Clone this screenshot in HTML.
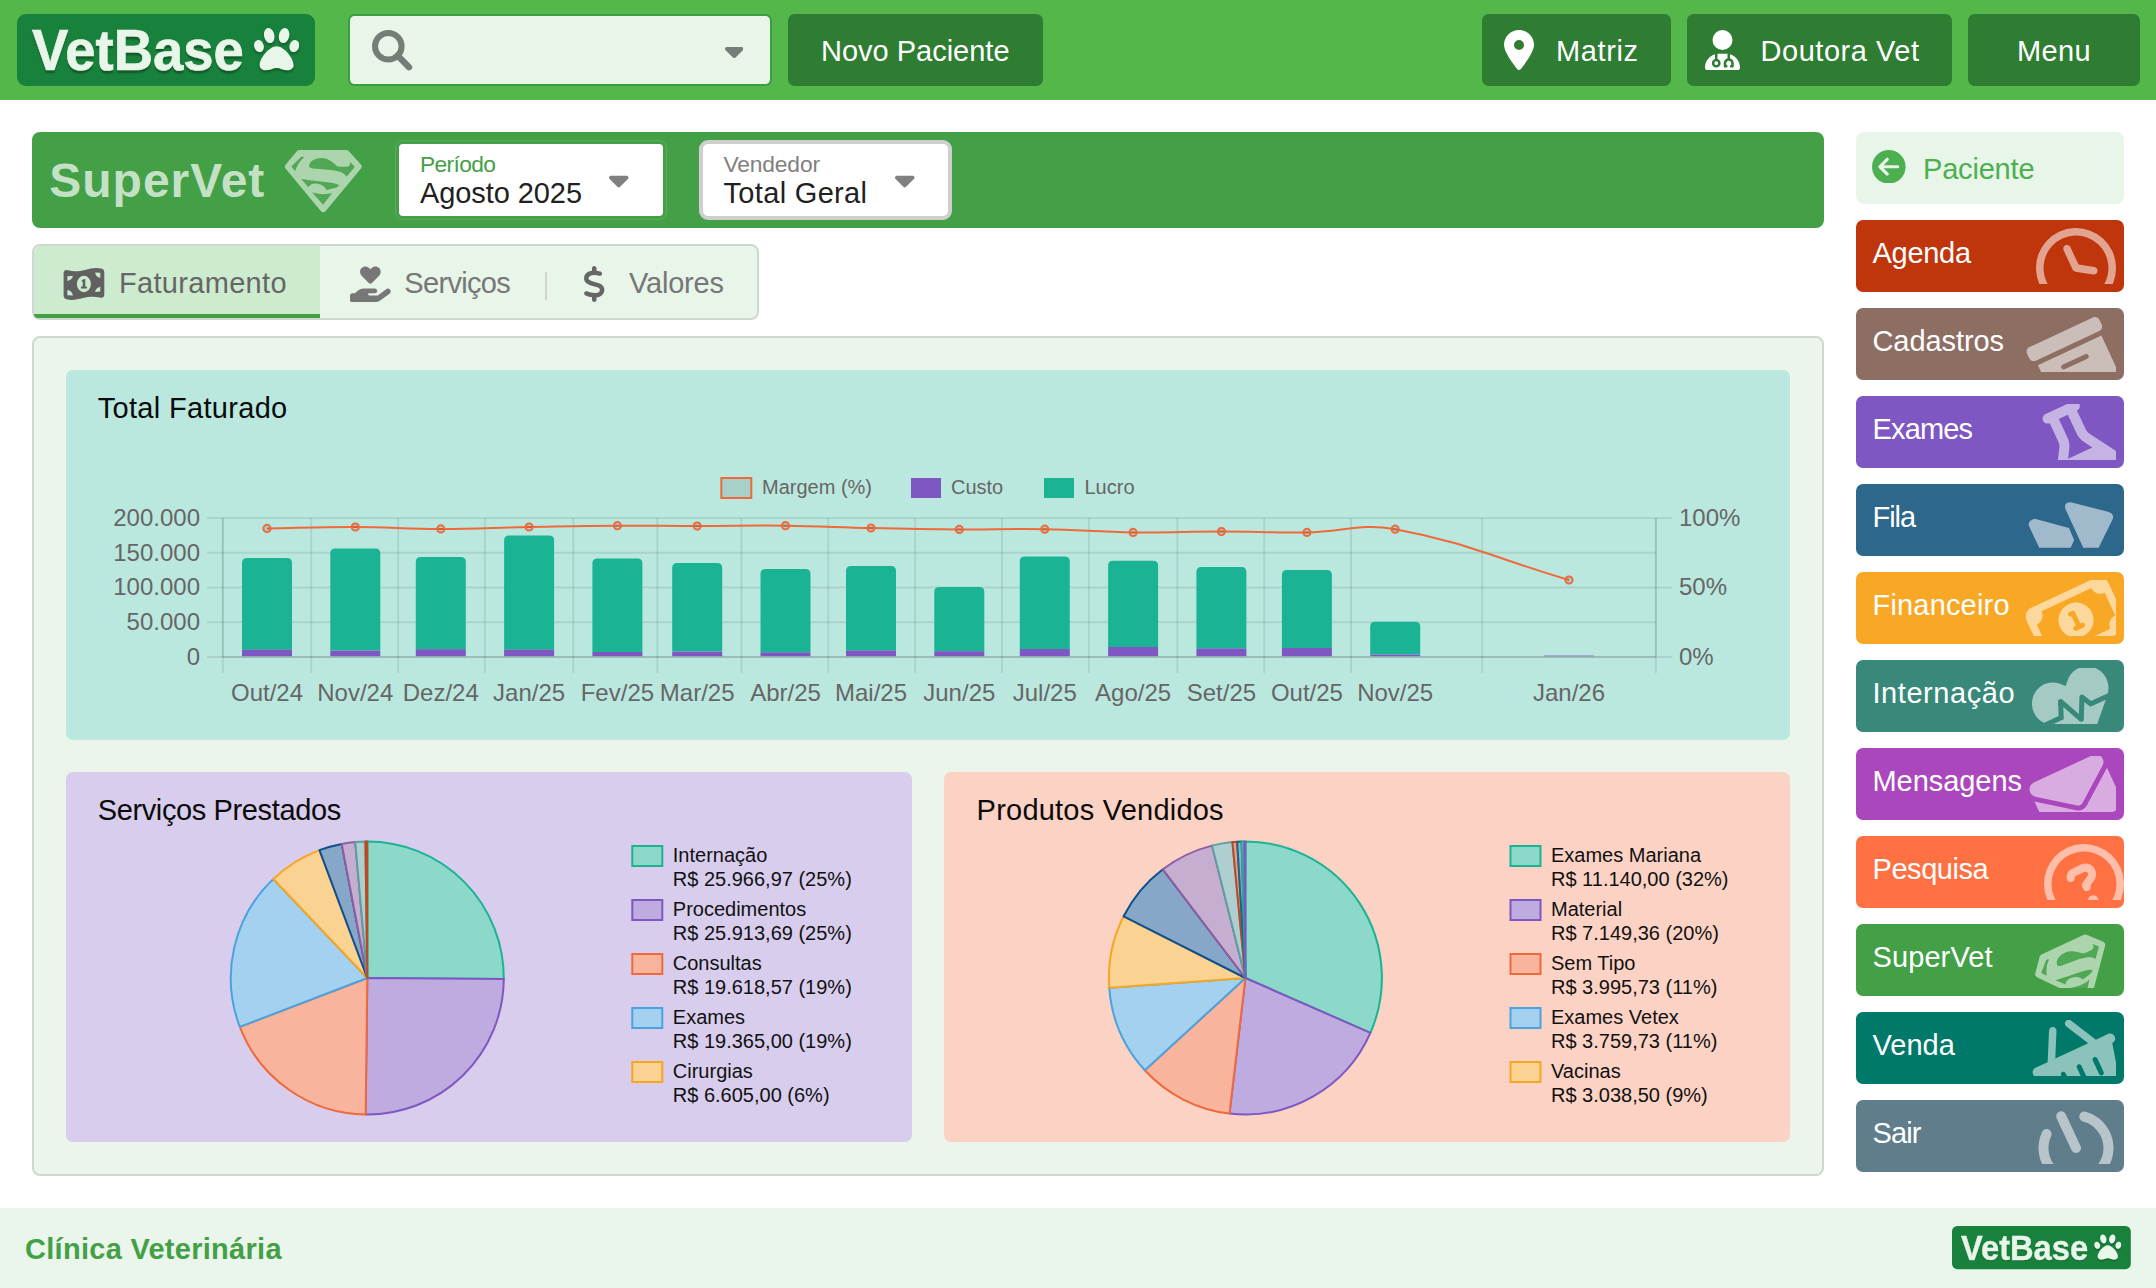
<!DOCTYPE html>
<html lang="pt-BR"><head><meta charset="utf-8"><title>VetBase - SuperVet</title>
<style>
html,body{margin:0;padding:0;}
body{width:2156px;height:1288px;position:relative;overflow:hidden;background:#fff;font-family:"Liberation Sans",sans-serif;}
.a{position:absolute;display:block;}
.t{position:absolute;white-space:nowrap;}
svg text{font-family:"Liberation Sans",sans-serif;}
</style></head><body>

<div class="a" style="left:0px;top:0px;width:2156px;height:100px;background:#53B74A;"></div>
<div class="a" style="left:17px;top:14px;width:298px;height:72px;transform-origin:0 0;transform:scale(1);">
<div class="a" style="left:0;top:0;width:298px;height:72px;background:#18813B;border-radius:9px;"></div>
<div class="t" style="left:15.2px;top:0.25px;font-size:57px;line-height:72px;font-weight:bold;color:#E8F5E9;-webkit-text-stroke:0.7px #E8F5E9;text-shadow:0 3px 1.5px rgba(0,0,0,0.3);transform-origin:0 50%;transform:scaleX(0.9551);">VetBase</div>
<svg class="a" style="left:237px;top:11.3px;filter:drop-shadow(0 2.5px 1px rgba(0,0,0,0.3));" width="45.3" height="48.3" viewBox="0 0 512 512" preserveAspectRatio="none"><path d="M256 224c-79.410 0-192 122.760-192 200.250 0 34.900 26.810 55.750 71.740 55.750 48.840 0 81.090-25.080 120.260-25.080 39.510 0 71.850 25.080 120.260 25.080 44.930 0 71.740-20.850 71.740-55.750C448 346.760 335.410 224 256 224zm-147.280-12.610c-10.400-34.650-42.440-57.090-71.560-50.130-29.120 6.960-44.290 40.690-33.890 75.340 10.400 34.650 42.440 57.090 71.560 50.130 29.120-6.960 44.290-40.690 33.890-75.340zm84.720-20.780c30.940-8.140 46.420-49.940 34.580-93.360s-46.520-72.010-77.460-63.870-46.420 49.940-34.580 93.360c11.840 43.420 46.530 72.020 77.460 63.870zm281.390-29.340c-29.120-6.960-61.150 15.480-71.560 50.130-10.400 34.650 4.770 68.380 33.890 75.340 29.120 6.960 61.150-15.480 71.560-50.130 10.400-34.650-4.770-68.380-33.890-75.340zm-156.270 29.340c30.940 8.140 65.620-20.450 77.460-63.870 11.840-43.420-3.640-85.210-34.580-93.360s-65.620 20.450-77.460 63.870c-11.840 43.420 3.640 85.220 34.580 93.360z" fill="#E8F5E9"/></svg>
</div>
<div class="a" style="left:348px;top:14px;width:423.5px;height:72px;background:#EAF5EA;border-radius:6.5px;box-sizing:border-box;border:2px solid #3A9E42;"></div>
<svg class="a" style="left:372px;top:29.7px;" width="41" height="41" viewBox="0 0 41 41"><circle cx="16.3" cy="16.3" r="13.3" fill="none" stroke="#747E76" stroke-width="6"/><line x1="25.6" y1="25.6" x2="37" y2="37.2" stroke="#747E76" stroke-width="6.4" stroke-linecap="round"/></svg>
<svg class="a" style="left:724.50px;top:35.50px;" width="18.44" height="29.50" viewBox="0 0 320 512" preserveAspectRatio="none"><path d="M137.400 374.600c12.500 12.500 32.800 12.500 45.300 0l128-128c9.200-9.200 11.900-22.900 6.900-34.900s-16.600-19.800-29.600-19.800L32 192c-12.900 0-24.600 7.800-29.600 19.800s-2.200 25.700 6.900 34.900l128 128z" fill="#747E76"/></svg>
<div class="a" style="left:788px;top:14px;width:255px;height:72px;background:#2E7D32;border-radius:6.5px;"></div>
<div class="t" style="left:821.00px;top:32.45px;font-size:29px;line-height:38px;color:#fff;letter-spacing:-0.009px;">Novo Paciente</div>
<div class="a" style="left:1482px;top:14px;width:189px;height:72px;background:#2E7D32;border-radius:6.5px;"></div>
<svg class="a" style="left:1503.50px;top:30.00px;" width="30.00" height="40.00" viewBox="0 0 384 512" preserveAspectRatio="none"><path d="M215.700 499.200C267 435 384 279.400 384 192C384 86 298 0 192 0S0 86 0 192c0 87.400 117 243 168.300 307.200c12.300 15.300 35.100 15.300 47.400 0zM192 128a64 64 0 1 1 0 128 64 64 0 1 1 0-128z" fill="#fff"/></svg>
<div class="t" style="left:1556.00px;top:32.45px;font-size:29px;line-height:38px;color:#fff;letter-spacing:0.612px;">Matriz</div>
<div class="a" style="left:1687px;top:14px;width:265px;height:72px;background:#2E7D32;border-radius:6.5px;"></div>
<svg class="a" style="left:1705.00px;top:30.00px;" width="35.00" height="40.00" viewBox="0 0 448 512" preserveAspectRatio="none"><path d="M224 256A128 128 0 1 0 224 0a128 128 0 1 0 0 256zm-96 55.200C54 332.900 0 401.300 0 482.300C0 498.700 13.300 512 29.700 512H418.300c16.400 0 29.700-13.300 29.700-29.700c0-81-54-149.400-128-171.100V362c27.600 7.100 48 32.200 48 62v40c0 8.800-7.200 16-16 16H336c-8.800 0-16-7.200-16-16s7.200-16 16-16V424c0-17.700-14.300-32-32-32s-32 14.300-32 32v24c8.800 0 16 7.200 16 16s-7.200 16-16 16H256c-8.800 0-16-7.200-16-16V424c0-29.800 20.400-54.900 48-62V304.900c-6-.6-12.100-.9-18.300-.9H178.300c-6.200 0-12.300 .3-18.300 .9v65.400c23.100 6.900 40 28.300 40 53.700c0 30.900-25.100 56-56 56s-56-25.100-56-56c0-25.400 16.900-46.800 40-53.700V311.200zM144 448a24 24 0 1 0 0-48 24 24 0 1 0 0 48z" fill="#fff"/></svg>
<div class="t" style="left:1760.50px;top:32.45px;font-size:29px;line-height:38px;color:#fff;letter-spacing:0.535px;">Doutora Vet</div>
<div class="a" style="left:1968px;top:14px;width:172px;height:72px;background:#2E7D32;border-radius:6.5px;"></div>
<div class="t" style="left:2017.00px;top:32.45px;font-size:29px;line-height:38px;color:#fff;letter-spacing:0.321px;">Menu</div>
<div class="a" style="left:32px;top:132px;width:1792px;height:96px;background:#43A047;border-radius:8px;"></div>
<div class="t" style="left:49.30px;top:150.37px;font-size:48px;line-height:62px;color:rgba(255,255,255,0.7);font-weight:bold;letter-spacing:0.990px;">SuperVet</div>
<svg class="a" style="left:0;top:0;" width="2156" height="1288" viewBox="0 0 2156 1288">
<g transform="translate(270,135) scale(0.06989)"><mask id="shm1" maskUnits="userSpaceOnUse" x="0" y="0" width="1600" height="1300"><path d="M420 262 L1090 262 L1262 452 L760 1055 L262 452 Z" fill="#fff" stroke="#fff" stroke-width="96" stroke-linejoin="round"/><path d="M305 450 L445 315 Q470 305 490 320 Q400 390 360 520 Z M560 440 C570 370 650 330 740 330 C840 335 900 390 950 440 C975 458 1000 456 1090 456 C1130 455 1150 430 1148 385 L1215 455 L1095 597 C1060 540 1000 520 900 505 C800 492 680 486 610 478 C575 472 558 462 560 440 Z M445 630 C600 655 800 665 930 695 C990 710 1000 730 960 748 C900 770 850 775 805 787 C790 740 730 700 650 695 C600 695 565 720 550 748 Z M600 820 C680 850 800 855 890 830 L760 997 Z" fill="#252525"/></mask><rect x="0" y="0" width="1600" height="1300" fill="rgba(255,255,255,0.56)" mask="url(#shm1)"/></g>
</svg>
<div class="a" style="left:395px;top:140px;width:272px;height:80px;background:#fff;border-radius:8px;box-sizing:border-box;border:4px solid #43A047;outline:1px solid rgba(255,255,255,0.12);outline-offset:-1px;"></div>
<div class="t" style="left:420.00px;top:148.60px;font-size:22.8px;line-height:30px;color:#43A047;letter-spacing:-0.642px;">Período</div>
<div class="t" style="left:420.00px;top:173.65px;font-size:29px;line-height:38px;color:#212121;letter-spacing:-0.084px;">Agosto 2025</div>
<svg class="a" style="left:609.00px;top:164.00px;" width="19.50" height="31.20" viewBox="0 0 320 512" preserveAspectRatio="none"><path d="M137.400 374.600c12.500 12.500 32.800 12.500 45.300 0l128-128c9.200-9.200 11.900-22.900 6.900-34.900s-16.600-19.800-29.600-19.800L32 192c-12.900 0-24.600 7.800-29.600 19.800s-2.200 25.700 6.900 34.900l128 128z" fill="#808080"/></svg>
<div class="a" style="left:699px;top:140px;width:253px;height:80px;background:#fff;border-radius:9px;box-sizing:border-box;border:4px solid #CFCFCF;"></div>
<div class="t" style="left:723.50px;top:148.60px;font-size:22.8px;line-height:30px;color:#808080;letter-spacing:-0.159px;">Vendedor</div>
<div class="t" style="left:723.50px;top:173.65px;font-size:29px;line-height:38px;color:#212121;letter-spacing:0.328px;">Total Geral</div>
<svg class="a" style="left:895.00px;top:164.00px;" width="19.50" height="31.20" viewBox="0 0 320 512" preserveAspectRatio="none"><path d="M137.400 374.600c12.500 12.500 32.800 12.500 45.300 0l128-128c9.200-9.200 11.900-22.900 6.900-34.900s-16.600-19.800-29.600-19.800L32 192c-12.900 0-24.600 7.800-29.600 19.800s-2.200 25.700 6.900 34.900l128 128z" fill="#808080"/></svg>
<div class="a" style="left:32px;top:244px;width:727px;height:76px;background:#E8F5E9;border-radius:8px;box-sizing:border-box;border:2px solid #CDD9CF;"></div>
<div class="a" style="left:34px;top:246px;width:286px;height:72px;background:#CDEBCE;border-radius:7px 0 0 7px;"></div>
<div class="a" style="left:38px;top:314px;width:282px;height:4px;background:#43A047;"></div>
<div class="a" style="left:34px;top:314px;width:8px;height:4px;background:#43A047;border-radius:0 0 0 6px;"></div>
<svg class="a" style="left:62.8px;top:267.2px;" width="42" height="34" viewBox="0 0 42 34">
<path fill-rule="evenodd" fill="#616161" d="M0.6 6.2 C0.6 3.6 2.6 2.6 5 3.3 C11 4.8 16 4.4 22 2.9 C28 1.3 33 0.3 38.2 1.6 C40.3 2.1 41.3 3.4 41.3 5.5 L41.3 27.6 C41.3 30.3 39.3 31.3 36.8 30.6 C31 29.2 26 29.5 20 31.1 C14 32.6 9 33.6 3.7 32.3 C1.6 31.8 0.6 30.5 0.6 28.4 Z
M4.4 9.2 L4.4 14 C7.4 13.6 9.6 11.6 9.9 8.8 Z M4.4 28.3 L9.9 28.6 C9.6 25.6 7.4 23.4 4.4 23 Z M37.3 5.7 L32.1 5.4 C32.5 8.4 34.5 10.4 37.3 10.8 Z M37.3 24.5 L37.3 19.8 C34.6 20.3 32.6 22.2 32.1 24.9 Z
M13.9 17 a7 8.3 0 1 0 14 0 a7 8.3 0 1 0 -14 0 Z"/>
<path fill="#616161" d="M18.8 13.2 L21.2 11.9 L22.3 11.9 L22.3 19.6 L23.9 19.6 L23.9 21.4 L17.9 21.4 L17.9 19.6 L19.7 19.6 L19.7 14.6 L18.8 15 Z"/>
</svg>
<div class="t" style="left:119.00px;top:264.45px;font-size:29px;line-height:38px;color:#666;letter-spacing:0.310px;">Faturamento</div>
<svg class="a" style="left:350.00px;top:266.20px;" width="40.73" height="36.20" viewBox="0 0 576 512" preserveAspectRatio="none"><path d="M163.900 136.900c-29.400-29.800-29.400-78.200 0-108s77-29.800 106.400 0l17.700 18 17.700-18c29.400-29.800 77-29.800 106.400 0s29.400 78.200 0 108L310.500 240.100c-6.200 6.300-14.300 9.400-22.500 9.400s-16.300-3.100-22.500-9.400L163.900 136.900zM568.200 336.300c13.100 17.800 9.300 42.800-8.500 55.900L433.100 485.500c-23.400 17.200-51.600 26.500-80.700 26.500H192 32c-17.700 0-32-14.300-32-32V416c0-17.700 14.300-32 32-32H68.800l44.900-36c22.700-18.200 50.900-28 80-28H272h16 64c17.700 0 32 14.300 32 32s-14.300 32-32 32H288 272c-8.800 0-16 7.200-16 16s7.200 16 16 16H392.600l119.700-88.200c17.800-13.100 42.800-9.300 55.900 8.500z" fill="#777"/></svg>
<div class="t" style="left:404.30px;top:264.45px;font-size:29px;line-height:38px;color:#777;letter-spacing:-0.671px;">Serviços</div>
<div class="a" style="left:545.2px;top:272px;width:2.2px;height:27.5px;background:#D2D2D0;"></div>
<svg class="a" style="left:583.20px;top:266.20px;" width="22.50" height="36.00" viewBox="0 0 320 512" preserveAspectRatio="none"><path d="M160 0c17.700 0 32 14.300 32 32V67.700c1.600 .2 3.100 .4 4.700 .7c.4 .1 .7 .1 1.100 .2l48 8.800c17.400 3.200 28.900 19.900 25.700 37.200s-19.900 28.900-37.200 25.700l-47.500-8.700c-31.300-4.600-58.900-1.500-78.300 6.200s-27.200 18.300-29 28.100c-2 10.700-.5 16.700 1.200 20.400c1.800 3.900 5.500 8.300 12.800 13.200c16.300 10.700 41.300 17.700 73.700 26.300l2.900 .8c28.600 7.600 63.600 16.800 89.600 33.800c14.200 9.300 27.600 21.900 35.900 39.500c8.500 17.900 10.300 37.900 6.400 59.200c-6.900 38-33.100 63.400-65.600 76.700c-13.700 5.600-28.600 9.200-44.400 11V480c0 17.700-14.300 32-32 32s-32-14.300-32-32V445.100c-.4-.1-.9-.1-1.300-.2l-.2 0 0 0c-24.400-3.800-64.500-14.300-91.500-26.300c-16.100-7.200-23.400-26.100-16.200-42.200s26.100-23.400 42.200-16.200c20.900 9.300 55.300 18.500 75.200 21.600c31.900 4.700 58.200 2 76-5.300c16.900-6.900 24.600-16.900 26.800-28.900c1.900-10.600 .4-16.700-1.300-20.400c-1.900-4-5.600-8.400-13-13.300c-16.400-10.700-41.500-17.700-74-26.300l-2.800-.7 0 0C119.400 279.300 84.400 270 58.400 253c-14.200-9.300-27.500-22-35.800-39.600c-8.400-17.900-10.100-37.900-6.100-59.200C23.700 116 52.300 91.200 84.800 78.300c13.300-5.300 27.900-8.900 43.200-11V32c0-17.700 14.300-32 32-32z" fill="#666"/></svg>
<div class="t" style="left:629.00px;top:264.45px;font-size:29px;line-height:38px;color:#777;letter-spacing:-0.195px;">Valores</div>
<div class="a" style="left:32px;top:336px;width:1792px;height:840px;background:#EBF5EC;border-radius:8px;box-sizing:border-box;border:2px solid #CDD9CF;"></div>
<div class="a" style="left:66px;top:370px;width:1724px;height:370px;background:#BAE8DF;border-radius:7px;"></div>
<div class="a" style="left:66px;top:772px;width:846px;height:370px;background:#D8CDED;border-radius:7px;"></div>
<div class="a" style="left:944px;top:772px;width:846px;height:370px;background:#FBD2C4;border-radius:7px;"></div>
<div class="t" style="left:97.70px;top:388.55px;font-size:29px;line-height:38px;color:#0b0b0b;letter-spacing:0.318px;">Total Faturado</div>
<div class="t" style="left:97.70px;top:791.45px;font-size:29px;line-height:38px;color:#0b0b0b;letter-spacing:-0.372px;">Serviços Prestados</div>
<div class="t" style="left:976.60px;top:791.45px;font-size:29px;line-height:38px;color:#0b0b0b;letter-spacing:0.222px;">Produtos Vendidos</div>
<svg class="a" style="left:0;top:0;" width="2156" height="1288" viewBox="0 0 2156 1288">
<line x1="207" x2="1671.9" y1="518.00" y2="518.00" stroke="rgba(0,0,0,0.085)" stroke-width="2"/>
<line x1="207" x2="1655.9" y1="552.75" y2="552.75" stroke="rgba(0,0,0,0.085)" stroke-width="2"/>
<line x1="207" x2="1671.9" y1="587.50" y2="587.50" stroke="rgba(0,0,0,0.085)" stroke-width="2"/>
<line x1="207" x2="1655.9" y1="622.25" y2="622.25" stroke="rgba(0,0,0,0.085)" stroke-width="2"/>
<line x1="207" x2="1671.9" y1="657.00" y2="657.00" stroke="rgba(0,0,0,0.085)" stroke-width="2"/>
<line x1="222.8" x2="222.8" y1="518.0" y2="673.0" stroke="rgba(0,0,0,0.085)" stroke-width="2"/>
<line x1="311.2" x2="311.2" y1="518.0" y2="673.0" stroke="rgba(0,0,0,0.085)" stroke-width="2"/>
<line x1="398.1" x2="398.1" y1="518.0" y2="673.0" stroke="rgba(0,0,0,0.085)" stroke-width="2"/>
<line x1="484.9" x2="484.9" y1="518.0" y2="673.0" stroke="rgba(0,0,0,0.085)" stroke-width="2"/>
<line x1="573.3" x2="573.3" y1="518.0" y2="673.0" stroke="rgba(0,0,0,0.085)" stroke-width="2"/>
<line x1="657.3" x2="657.3" y1="518.0" y2="673.0" stroke="rgba(0,0,0,0.085)" stroke-width="2"/>
<line x1="741.4" x2="741.4" y1="518.0" y2="673.0" stroke="rgba(0,0,0,0.085)" stroke-width="2"/>
<line x1="828.3" x2="828.3" y1="518.0" y2="673.0" stroke="rgba(0,0,0,0.085)" stroke-width="2"/>
<line x1="915.1" x2="915.1" y1="518.0" y2="673.0" stroke="rgba(0,0,0,0.085)" stroke-width="2"/>
<line x1="1002.0" x2="1002.0" y1="518.0" y2="673.0" stroke="rgba(0,0,0,0.085)" stroke-width="2"/>
<line x1="1088.9" x2="1088.9" y1="518.0" y2="673.0" stroke="rgba(0,0,0,0.085)" stroke-width="2"/>
<line x1="1177.3" x2="1177.3" y1="518.0" y2="673.0" stroke="rgba(0,0,0,0.085)" stroke-width="2"/>
<line x1="1264.2" x2="1264.2" y1="518.0" y2="673.0" stroke="rgba(0,0,0,0.085)" stroke-width="2"/>
<line x1="1351.0" x2="1351.0" y1="518.0" y2="673.0" stroke="rgba(0,0,0,0.085)" stroke-width="2"/>
<line x1="1482.1" x2="1482.1" y1="518.0" y2="673.0" stroke="rgba(0,0,0,0.085)" stroke-width="2"/>
<line x1="1655.9" x2="1655.9" y1="518.0" y2="673.0" stroke="rgba(0,0,0,0.085)" stroke-width="2"/>
<line x1="222.8" x2="1655.9" y1="657.0" y2="657.0" stroke="rgba(0,0,0,0.1)" stroke-width="2"/>
<line x1="222.8" x2="222.8" y1="518.0" y2="657.0" stroke="rgba(0,0,0,0.08)" stroke-width="2"/>
<line x1="1655.9" x2="1655.9" y1="518.0" y2="657.0" stroke="rgba(0,0,0,0.08)" stroke-width="2"/>
<path d="M242.0 649.7 L242.0 562.9 Q242.0 557.9 247.0 557.9 L287.0 557.9 Q292.0 557.9 292.0 562.9 L292.0 649.7 Z" fill="#1AB394"/>
<rect x="242.0" y="649.7" width="50" height="6.5" fill="#7E57C2"/>
<path d="M330.3 650.6 L330.3 553.6 Q330.3 548.6 335.3 548.6 L375.3 548.6 Q380.3 548.6 380.3 553.6 L380.3 650.6 Z" fill="#1AB394"/>
<rect x="330.3" y="650.6" width="50" height="5.6" fill="#7E57C2"/>
<path d="M415.8 649.2 L415.8 561.9 Q415.8 556.9 420.8 556.9 L460.8 556.9 Q465.8 556.9 465.8 561.9 L465.8 649.2 Z" fill="#1AB394"/>
<rect x="415.8" y="649.2" width="50" height="7.0" fill="#7E57C2"/>
<path d="M504.1 649.7 L504.1 540.4 Q504.1 535.4 509.1 535.4 L549.1 535.4 Q554.1 535.4 554.1 540.4 L554.1 649.7 Z" fill="#1AB394"/>
<rect x="504.1" y="649.7" width="50" height="6.5" fill="#7E57C2"/>
<path d="M592.4 652.0 L592.4 563.6 Q592.4 558.6 597.4 558.6 L637.4 558.6 Q642.4 558.6 642.4 563.6 L642.4 652.0 Z" fill="#1AB394"/>
<rect x="592.4" y="652.0" width="50" height="4.2" fill="#7E57C2"/>
<path d="M672.2 651.6 L672.2 568.0 Q672.2 563.0 677.2 563.0 L717.2 563.0 Q722.2 563.0 722.2 568.0 L722.2 651.6 Z" fill="#1AB394"/>
<rect x="672.2" y="651.6" width="50" height="4.6" fill="#7E57C2"/>
<path d="M760.5 652.4 L760.5 574.0 Q760.5 569.0 765.5 569.0 L805.5 569.0 Q810.5 569.0 810.5 574.0 L810.5 652.4 Z" fill="#1AB394"/>
<rect x="760.5" y="652.4" width="50" height="3.8" fill="#7E57C2"/>
<path d="M846.0 650.4 L846.0 571.1 Q846.0 566.1 851.0 566.1 L891.0 566.1 Q896.0 566.1 896.0 571.1 L896.0 650.4 Z" fill="#1AB394"/>
<rect x="846.0" y="650.4" width="50" height="5.8" fill="#7E57C2"/>
<path d="M934.3 651.2 L934.3 592.0 Q934.3 587.0 939.3 587.0 L979.3 587.0 Q984.3 587.0 984.3 592.0 L984.3 651.2 Z" fill="#1AB394"/>
<rect x="934.3" y="651.2" width="50" height="5.0" fill="#7E57C2"/>
<path d="M1019.8 649.0 L1019.8 561.5 Q1019.8 556.5 1024.8 556.5 L1064.8 556.5 Q1069.8 556.5 1069.8 561.5 L1069.8 649.0 Z" fill="#1AB394"/>
<rect x="1019.8" y="649.0" width="50" height="7.2" fill="#7E57C2"/>
<path d="M1108.1 647.0 L1108.1 565.8 Q1108.1 560.8 1113.1 560.8 L1153.1 560.8 Q1158.1 560.8 1158.1 565.8 L1158.1 647.0 Z" fill="#1AB394"/>
<rect x="1108.1" y="647.0" width="50" height="9.2" fill="#7E57C2"/>
<path d="M1196.4 648.4 L1196.4 572.1 Q1196.4 567.1 1201.4 567.1 L1241.4 567.1 Q1246.4 567.1 1246.4 572.1 L1246.4 648.4 Z" fill="#1AB394"/>
<rect x="1196.4" y="648.4" width="50" height="7.8" fill="#7E57C2"/>
<path d="M1281.9 648.0 L1281.9 575.0 Q1281.9 570.0 1286.9 570.0 L1326.9 570.0 Q1331.9 570.0 1331.9 575.0 L1331.9 648.0 Z" fill="#1AB394"/>
<rect x="1281.9" y="648.0" width="50" height="8.2" fill="#7E57C2"/>
<path d="M1370.2 654.6 L1370.2 626.8 Q1370.2 621.8 1375.2 621.8 L1415.2 621.8 Q1420.2 621.8 1420.2 626.8 L1420.2 654.6 Z" fill="#1AB394"/>
<rect x="1370.2" y="654.6" width="50" height="1.6" fill="#7E57C2"/>
<rect x="1544.0" y="655.6" width="50" height="0.6" fill="#7E57C2"/>
<path d="M267.0 528.4 C302.3 527.8 320.0 526.9 355.3 527.0 C389.5 527.1 406.6 528.9 440.8 528.9 C476.1 528.9 493.8 527.6 529.1 527.0 C564.4 526.4 582.1 525.9 617.4 525.7 C649.3 525.5 665.3 526.1 697.2 526.1 C732.5 526.1 750.2 525.3 785.5 525.7 C819.7 526.1 836.8 527.3 871.0 528.0 C906.3 528.8 924.0 529.2 959.3 529.4 C993.5 529.6 1010.6 528.6 1044.8 529.2 C1080.1 529.8 1097.8 531.9 1133.1 532.4 C1168.4 532.9 1186.1 531.6 1221.4 531.6 C1255.6 531.6 1272.7 532.9 1306.9 532.4 C1342.2 531.9 1360.8 523.0 1395.2 529.2 C1465.7 542.0 1499.5 559.7 1569.0 580.0" fill="none" stroke="#F0693A" stroke-width="2"/>
<circle cx="267.0" cy="528.4" r="3.6" fill="rgba(0,0,0,0.1)" stroke="#F0693A" stroke-width="2"/>
<circle cx="355.3" cy="527.0" r="3.6" fill="rgba(0,0,0,0.1)" stroke="#F0693A" stroke-width="2"/>
<circle cx="440.8" cy="528.9" r="3.6" fill="rgba(0,0,0,0.1)" stroke="#F0693A" stroke-width="2"/>
<circle cx="529.1" cy="527.0" r="3.6" fill="rgba(0,0,0,0.1)" stroke="#F0693A" stroke-width="2"/>
<circle cx="617.4" cy="525.7" r="3.6" fill="rgba(0,0,0,0.1)" stroke="#F0693A" stroke-width="2"/>
<circle cx="697.2" cy="526.1" r="3.6" fill="rgba(0,0,0,0.1)" stroke="#F0693A" stroke-width="2"/>
<circle cx="785.5" cy="525.7" r="3.6" fill="rgba(0,0,0,0.1)" stroke="#F0693A" stroke-width="2"/>
<circle cx="871.0" cy="528.0" r="3.6" fill="rgba(0,0,0,0.1)" stroke="#F0693A" stroke-width="2"/>
<circle cx="959.3" cy="529.4" r="3.6" fill="rgba(0,0,0,0.1)" stroke="#F0693A" stroke-width="2"/>
<circle cx="1044.8" cy="529.2" r="3.6" fill="rgba(0,0,0,0.1)" stroke="#F0693A" stroke-width="2"/>
<circle cx="1133.1" cy="532.4" r="3.6" fill="rgba(0,0,0,0.1)" stroke="#F0693A" stroke-width="2"/>
<circle cx="1221.4" cy="531.6" r="3.6" fill="rgba(0,0,0,0.1)" stroke="#F0693A" stroke-width="2"/>
<circle cx="1306.9" cy="532.4" r="3.6" fill="rgba(0,0,0,0.1)" stroke="#F0693A" stroke-width="2"/>
<circle cx="1395.2" cy="529.2" r="3.6" fill="rgba(0,0,0,0.1)" stroke="#F0693A" stroke-width="2"/>
<circle cx="1569.0" cy="580.0" r="3.6" fill="rgba(0,0,0,0.1)" stroke="#F0693A" stroke-width="2"/>
<rect x="721.3" y="478" width="30" height="20" fill="rgba(0,0,0,0.1)" stroke="#F0693A" stroke-width="2"/>
<rect x="911" y="478" width="30" height="20" fill="#7E57C2"/>
<rect x="1044" y="478" width="30" height="20" fill="#1AB394"/>
<g font-size="20" fill="#666"><text x="762" y="494">Margem (%)</text><text x="951" y="494">Custo</text><text x="1084.5" y="494">Lucro</text></g>
<g font-size="24" fill="#666">
<text x="200" y="525.8" text-anchor="end">200.000</text>
<text x="200" y="560.5" text-anchor="end">150.000</text>
<text x="200" y="595.3" text-anchor="end">100.000</text>
<text x="200" y="630.0" text-anchor="end">50.000</text>
<text x="200" y="664.8" text-anchor="end">0</text>
<text x="1679" y="525.8">100%</text>
<text x="1679" y="595.3">50%</text>
<text x="1679" y="664.8">0%</text>
<text x="267.0" y="701.2" text-anchor="middle">Out/24</text>
<text x="355.3" y="701.2" text-anchor="middle">Nov/24</text>
<text x="440.8" y="701.2" text-anchor="middle">Dez/24</text>
<text x="529.1" y="701.2" text-anchor="middle">Jan/25</text>
<text x="617.4" y="701.2" text-anchor="middle">Fev/25</text>
<text x="697.2" y="701.2" text-anchor="middle">Mar/25</text>
<text x="785.5" y="701.2" text-anchor="middle">Abr/25</text>
<text x="871.0" y="701.2" text-anchor="middle">Mai/25</text>
<text x="959.3" y="701.2" text-anchor="middle">Jun/25</text>
<text x="1044.8" y="701.2" text-anchor="middle">Jul/25</text>
<text x="1133.1" y="701.2" text-anchor="middle">Ago/25</text>
<text x="1221.4" y="701.2" text-anchor="middle">Set/25</text>
<text x="1306.9" y="701.2" text-anchor="middle">Out/25</text>
<text x="1395.2" y="701.2" text-anchor="middle">Nov/25</text>
<text x="1569.0" y="701.2" text-anchor="middle">Jan/26</text>
</g>
<path d="M367.30 978.00 L367.30 841.50 A136.5 136.5 0 0 1 503.80 979.06 Z" fill="#8CD9CA" stroke="#1AB394" stroke-width="2" stroke-linejoin="round"/>
<path d="M367.30 978.00 L503.80 979.06 A136.5 136.5 0 0 1 365.63 1114.49 Z" fill="#BEABE0" stroke="#7E57C2" stroke-width="2" stroke-linejoin="round"/>
<path d="M367.30 978.00 L365.63 1114.49 A136.5 136.5 0 0 1 239.84 1026.85 Z" fill="#F8B49C" stroke="#F0693A" stroke-width="2" stroke-linejoin="round"/>
<path d="M367.30 978.00 L239.84 1026.85 A136.5 136.5 0 0 1 273.30 879.02 Z" fill="#A4D1EF" stroke="#4AA3DF" stroke-width="2" stroke-linejoin="round"/>
<path d="M367.30 978.00 L273.30 879.02 A136.5 136.5 0 0 1 319.46 850.16 Z" fill="#FAD291" stroke="#F5A623" stroke-width="2" stroke-linejoin="round"/>
<path d="M367.30 978.00 L319.46 850.16 A136.5 136.5 0 0 1 341.73 843.92 Z" fill="#86A7C7" stroke="#0D4F8F" stroke-width="2" stroke-linejoin="round"/>
<path d="M367.30 978.00 L341.73 843.92 A136.5 136.5 0 0 1 355.23 842.04 Z" fill="#C6AED0" stroke="#8E5EA2" stroke-width="2" stroke-linejoin="round"/>
<path d="M367.30 978.00 L355.23 842.04 A136.5 136.5 0 0 1 365.42 841.51 Z" fill="#AFCED0" stroke="#5F9EA0" stroke-width="2" stroke-linejoin="round"/>
<path d="M367.30 978.00 L365.42 841.51 A136.5 136.5 0 0 1 367.30 841.50 Z" fill="#DCA492" stroke="#B94A24" stroke-width="2" stroke-linejoin="round"/>
<path d="M1245.40 978.00 L1245.40 841.50 A136.5 136.5 0 0 1 1370.38 1032.89 Z" fill="#8CD9CA" stroke="#1AB394" stroke-width="2" stroke-linejoin="round"/>
<path d="M1245.40 978.00 L1370.38 1032.89 A136.5 136.5 0 0 1 1229.50 1113.57 Z" fill="#BEABE0" stroke="#7E57C2" stroke-width="2" stroke-linejoin="round"/>
<path d="M1245.40 978.00 L1229.50 1113.57 A136.5 136.5 0 0 1 1144.80 1070.26 Z" fill="#F8B49C" stroke="#F0693A" stroke-width="2" stroke-linejoin="round"/>
<path d="M1245.40 978.00 L1144.80 1070.26 A136.5 136.5 0 0 1 1109.26 987.87 Z" fill="#A4D1EF" stroke="#4AA3DF" stroke-width="2" stroke-linejoin="round"/>
<path d="M1245.40 978.00 L1109.26 987.87 A136.5 136.5 0 0 1 1123.63 916.31 Z" fill="#FAD291" stroke="#F5A623" stroke-width="2" stroke-linejoin="round"/>
<path d="M1245.40 978.00 L1123.63 916.31 A136.5 136.5 0 0 1 1162.86 869.28 Z" fill="#86A7C7" stroke="#0D4F8F" stroke-width="2" stroke-linejoin="round"/>
<path d="M1245.40 978.00 L1162.86 869.28 A136.5 136.5 0 0 1 1212.06 845.63 Z" fill="#C6AED0" stroke="#8E5EA2" stroke-width="2" stroke-linejoin="round"/>
<path d="M1245.40 978.00 L1212.06 845.63 A136.5 136.5 0 0 1 1232.41 842.12 Z" fill="#AFCED0" stroke="#5F9EA0" stroke-width="2" stroke-linejoin="round"/>
<path d="M1245.40 978.00 L1232.41 842.12 A136.5 136.5 0 0 1 1237.14 841.75 Z" fill="#DCA492" stroke="#B94A24" stroke-width="2" stroke-linejoin="round"/>
<path d="M1245.40 978.00 L1237.14 841.75 A136.5 136.5 0 0 1 1241.63 841.55 Z" fill="#90B0C6" stroke="#22628C" stroke-width="2" stroke-linejoin="round"/>
<path d="M1245.40 978.00 L1241.63 841.55 A136.5 136.5 0 0 1 1244.31 841.50 Z" fill="#8CD9CA" stroke="#1AB394" stroke-width="2" stroke-linejoin="round"/>
<path d="M1245.40 978.00 L1244.31 841.50 A136.5 136.5 0 0 1 1245.40 841.50 Z" fill="#BEABE0" stroke="#7E57C2" stroke-width="2" stroke-linejoin="round"/>
<g font-size="20" fill="#111">
<rect x="632.3" y="846" width="30" height="20" fill="#8CD9CA" stroke="#1AB394" stroke-width="2"/>
<text x="672.8" y="861.6">Internação</text><text x="672.8" y="885.6">R$ 25.966,97 (25%)</text>
<rect x="632.3" y="900" width="30" height="20" fill="#BEABE0" stroke="#7E57C2" stroke-width="2"/>
<text x="672.8" y="915.6">Procedimentos</text><text x="672.8" y="939.6">R$ 25.913,69 (25%)</text>
<rect x="632.3" y="954" width="30" height="20" fill="#F8B49C" stroke="#F0693A" stroke-width="2"/>
<text x="672.8" y="969.6">Consultas</text><text x="672.8" y="993.6">R$ 19.618,57 (19%)</text>
<rect x="632.3" y="1008" width="30" height="20" fill="#A4D1EF" stroke="#4AA3DF" stroke-width="2"/>
<text x="672.8" y="1023.6">Exames</text><text x="672.8" y="1047.6">R$ 19.365,00 (19%)</text>
<rect x="632.3" y="1062" width="30" height="20" fill="#FAD291" stroke="#F5A623" stroke-width="2"/>
<text x="672.8" y="1077.6">Cirurgias</text><text x="672.8" y="1101.6">R$ 6.605,00 (6%)</text>
</g>
<g font-size="20" fill="#111">
<rect x="1510.5" y="846" width="30" height="20" fill="#8CD9CA" stroke="#1AB394" stroke-width="2"/>
<text x="1551.0" y="861.6">Exames Mariana</text><text x="1551.0" y="885.6">R$ 11.140,00 (32%)</text>
<rect x="1510.5" y="900" width="30" height="20" fill="#BEABE0" stroke="#7E57C2" stroke-width="2"/>
<text x="1551.0" y="915.6">Material</text><text x="1551.0" y="939.6">R$ 7.149,36 (20%)</text>
<rect x="1510.5" y="954" width="30" height="20" fill="#F8B49C" stroke="#F0693A" stroke-width="2"/>
<text x="1551.0" y="969.6">Sem Tipo</text><text x="1551.0" y="993.6">R$ 3.995,73 (11%)</text>
<rect x="1510.5" y="1008" width="30" height="20" fill="#A4D1EF" stroke="#4AA3DF" stroke-width="2"/>
<text x="1551.0" y="1023.6">Exames Vetex</text><text x="1551.0" y="1047.6">R$ 3.759,73 (11%)</text>
<rect x="1510.5" y="1062" width="30" height="20" fill="#FAD291" stroke="#F5A623" stroke-width="2"/>
<text x="1551.0" y="1077.6">Vacinas</text><text x="1551.0" y="1101.6">R$ 3.038,50 (9%)</text>
</g>
</svg>
<div class="a" style="left:1856px;top:132px;width:268px;height:72px;background:#E8F5E9;border-radius:8px;"></div>
<svg class="a" style="left:1872.00px;top:149.60px;" width="33.60" height="33.60" viewBox="0 0 512 512" preserveAspectRatio="none"><path d="M512 256A256 256 0 1 0 0 256a256 256 0 1 0 512 0zM215 127c9.400-9.400 24.600-9.400 33.900 0s9.400 24.600 0 33.900l-71 71L392 232c13.300 0 24 10.700 24 24s-10.700 24-24 24l-214.100 0 71 71c9.400 9.400 9.400 24.600 0 33.900s-24.600 9.400-33.900 0L103 273c-9.400-9.400-9.400-24.600 0-33.900L215 127z" fill="#4CAF50"/></svg>
<div class="t" style="left:1923.00px;top:149.95px;font-size:29px;line-height:38px;color:#4CAF50;letter-spacing:-0.193px;">Paciente</div>
<div class="a" style="left:1856px;top:220px;width:268px;height:72px;background:#BF360C;border-radius:7px;overflow:hidden;">
<svg class="a" style="left:0;top:8px;" width="260" height="56" viewBox="0 8 260 56">
<g transform="translate(220.00,48) rotate(-25) scale(0.15625) translate(-256.0,-256)"><path d="M464 256A208 208 0 1 1 48 256a208 208 0 1 1 416 0zM0 256a256 256 0 1 0 512 0A256 256 0 1 0 0 256zM232 120V256c0 8 4 15.500 10.700 20l96 64c11 7.400 25.900 4.400 33.300-6.700s4.400-25.900-6.700-33.300L280 243.200V120c0-13.300-10.700-24-24-24s-24 10.700-24 24z" fill="rgba(255,255,255,0.55)"/></g>
</svg>
</div>
<div class="t" style="left:1872.50px;top:233.75px;font-size:29px;line-height:38px;color:#fff;letter-spacing:-0.296px;">Agenda</div>
<div class="a" style="left:1856px;top:308px;width:268px;height:72px;background:#8D6E63;border-radius:7px;overflow:hidden;">
<svg class="a" style="left:0;top:8px;" width="260" height="56" viewBox="0 8 260 56">
<g transform="translate(220.00,56) rotate(-25) scale(0.15625) translate(-256.0,-256)"><path d="M32 32H480c17.700 0 32 14.300 32 32V96c0 17.700-14.300 32-32 32H32C14.300 128 0 113.700 0 96V64C0 46.300 14.300 32 32 32zm0 128H480V416c0 35.300-28.700 64-64 64H96c-35.300 0-64-28.700-64-64V160zm128 80c0 8.800 7.200 16 16 16H336c8.800 0 16-7.200 16-16s-7.200-16-16-16H176c-8.800 0-16 7.200-16 16z" fill="rgba(255,255,255,0.55)"/></g>
</svg>
</div>
<div class="t" style="left:1872.50px;top:321.75px;font-size:29px;line-height:38px;color:#fff;letter-spacing:-0.070px;">Cadastros</div>
<div class="a" style="left:1856px;top:396px;width:268px;height:72px;background:#7E57C2;border-radius:7px;overflow:hidden;">
<svg class="a" style="left:0;top:8px;" width="260" height="56" viewBox="0 8 260 56">
<g transform="translate(220.00,48) rotate(-25) scale(0.15625) translate(-224.0,-256)"><path d="M288 0H160 128C110.300 0 96 14.300 96 32s14.300 32 32 32V196.800c0 11.800-3.300 23.500-9.500 33.500L10.300 406.200C3.600 417.200 0 429.700 0 442.600C0 480.900 31.100 512 69.400 512H378.600c38.300 0 69.400-31.100 69.400-69.400c0-12.800-3.600-25.400-10.300-36.400L329.500 230.400c-6.200-10.100-9.500-21.700-9.500-33.500V64c17.700 0 32-14.300 32-32s-14.300-32-32-32H288zM192 196.800V64h64V196.800c0 23.700 6.600 46.900 19 67.100L309.500 320h-171L173 263.900c12.400-20.200 19-43.400 19-67.100z" fill="rgba(255,255,255,0.55)"/></g>
</svg>
</div>
<div class="t" style="left:1872.50px;top:409.75px;font-size:29px;line-height:38px;color:#fff;letter-spacing:-0.831px;">Exames</div>
<div class="a" style="left:1856px;top:484px;width:268px;height:72px;background:#2E678C;border-radius:7px;overflow:hidden;">
<svg class="a" style="left:0;top:8px;" width="260" height="56" viewBox="0 8 260 56">
<g transform="translate(134,-8) scale(0.06986)" fill="rgba(255,255,255,0.55)" stroke="rgba(255,255,255,0.55)" stroke-width="0"><path d="M640 612 L1130 745 L1205 915 L1155 1028 L705 1028 L560 720 Q530 640 640 612 Z"/><path d="M1170 378 L1690 512 Q1790 545 1752 625 L1555 1028 L1335 1028 L1083 480 Q1045 370 1170 378 Z"/></g>
</svg>
</div>
<div class="t" style="left:1872.50px;top:497.75px;font-size:29px;line-height:38px;color:#fff;letter-spacing:-1.042px;">Fila</div>
<div class="a" style="left:1856px;top:572px;width:268px;height:72px;background:#F9A825;border-radius:7px;overflow:hidden;">
<svg class="a" style="left:0;top:8px;" width="260" height="56" viewBox="0 8 260 56">
<g transform="translate(220.00,48) rotate(-25) scale(0.15625) translate(-288.0,-256)"><path d="M112 112c0 35.300-28.700 64-64 64V336c35.300 0 64 28.700 64 64H464c0-35.300 28.700-64 64-64V176c-35.300 0-64-28.700-64-64H112zM0 128C0 92.700 28.700 64 64 64H512c35.300 0 64 28.700 64 64V384c0 35.300-28.700 64-64 64H64c-35.300 0-64-28.700-64-64V128zM176 256a112 112 0 1 1 224 0 112 112 0 1 1 -224 0zm80-48c0 8.800 7.200 16 16 16v64h-8c-8.800 0-16 7.200-16 16s7.200 16 16 16h24 24c8.800 0 16-7.200 16-16s-7.200-16-16-16h-8V208c0-8.800-7.200-16-16-16H272c-8.800 0-16 7.200-16 16z" fill="rgba(255,255,255,0.55)"/></g>
</svg>
</div>
<div class="t" style="left:1872.50px;top:585.75px;font-size:29px;line-height:38px;color:#fff;letter-spacing:0.179px;">Financeiro</div>
<div class="a" style="left:1856px;top:660px;width:268px;height:72px;background:#38897A;border-radius:7px;overflow:hidden;">
<svg class="a" style="left:0;top:8px;" width="260" height="56" viewBox="0 8 260 56">
<g transform="translate(220.00,48) rotate(-25) scale(0.15625) translate(-256.0,-256)"><path d="M320.2 243.8l-49.700 99.400c-6 12.100-23.400 11.700-28.900-.6l-56.900-126.300-30 71.700H60.600l182.500 186.500c7.100 7.300 18.600 7.300 25.700 0L451.400 288H342.300l-22.100-44.200zM473.700 73.900l-2.400-2.500c-51.500-52.600-135.800-52.600-187.400 0L256 100l-27.900-28.500c-51.500-52.700-135.900-52.700-187.400 0l-2.400 2.400C-10.400 123.700-12.500 203 31 256h102.400l35.900-86.200c5.400-12.900 23.600-13.200 29.400-.4l58.200 129.300 49-97.900c5.900-11.800 22.700-11.800 28.600 0l27.600 55.200H481c43.500-53 41.400-132.300-7.300-182.100z" fill="rgba(255,255,255,0.55)"/></g>
</svg>
</div>
<div class="t" style="left:1872.50px;top:673.75px;font-size:29px;line-height:38px;color:#fff;letter-spacing:0.552px;">Internação</div>
<div class="a" style="left:1856px;top:748px;width:268px;height:72px;background:#AB47BC;border-radius:7px;overflow:hidden;">
<svg class="a" style="left:0;top:8px;" width="260" height="56" viewBox="0 8 260 56">
<g transform="translate(220.00,48) rotate(-25) scale(0.15625) translate(-256.0,-256)"><path d="M48 64C21.500 64 0 85.500 0 112c0 15.100 7.100 29.300 19.200 38.400L236.800 313.600c11.400 8.500 27 8.500 38.400 0L492.800 150.400c12.100-9.100 19.200-23.300 19.200-38.400c0-26.500-21.500-48-48-48H48zM0 176V384c0 35.300 28.700 64 64 64H448c35.300 0 64-28.700 64-64V176L294.400 339.200c-22.800 17.100-54 17.100-76.800 0L0 176z" fill="rgba(255,255,255,0.55)"/></g>
</svg>
</div>
<div class="t" style="left:1872.50px;top:761.75px;font-size:29px;line-height:38px;color:#fff;letter-spacing:-0.052px;">Mensagens</div>
<div class="a" style="left:1856px;top:836px;width:268px;height:72px;background:#FF7043;border-radius:7px;overflow:hidden;">
<svg class="a" style="left:0;top:8px;" width="268" height="56" viewBox="0 8 268 56">
<g transform="translate(228.00,48) rotate(-25) scale(0.15625) translate(-256.0,-256)"><path d="M464 256A208 208 0 1 0 48 256a208 208 0 1 0 416 0zM0 256a256 256 0 1 1 512 0A256 256 0 1 1 0 256z" fill="rgba(255,255,255,0.55)"/></g>
<g transform="translate(230.30,49.9) rotate(-25) scale(0.16875) translate(-256.0,-256)"><path d="M0 256m169.800-90.700c7.900-22.300 29.100-37.300 52.800-37.300h58.300c34.900 0 63.100 28.300 63.100 63.100c0 22.600-12.100 43.500-31.700 54.800L280 264.400c-.2 13-10.900 23.600-24 23.600c-13.300 0-24-10.700-24-24V250.500c0-8.600 4.600-16.500 12.100-20.800l44.300-25.400c4.700-2.700 7.600-7.700 7.600-13.100c0-8.400-6.800-15.100-15.100-15.100H222.600c-3.400 0-6.400 2.100-7.500 5.300l-.4 1.200c-4.400 12.500-18.200 19-30.600 14.600s-19-18.200-14.600-30.600l.4-1.200zM224 352a32 32 0 1 1 64 0 32 32 0 1 1 -64 0z" fill="rgba(255,255,255,0.55)"/></g>
</svg>
</div>
<div class="t" style="left:1872.50px;top:849.75px;font-size:29px;line-height:38px;color:#fff;letter-spacing:-0.442px;">Pesquisa</div>
<div class="a" style="left:1856px;top:924px;width:268px;height:72px;background:#43A047;border-radius:7px;overflow:hidden;">
<svg class="a" style="left:0;top:8px;" width="260" height="56" viewBox="0 8 260 56">
<g transform="translate(214,35.5) rotate(-25) scale(0.06989) translate(-760,-450)"><mask id="shm2" maskUnits="userSpaceOnUse" x="0" y="0" width="1600" height="1300"><path d="M420 262 L1090 262 L1262 452 L760 1055 L262 452 Z" fill="#fff" stroke="#fff" stroke-width="96" stroke-linejoin="round"/><path d="M305 450 L445 315 Q470 305 490 320 Q400 390 360 520 Z M560 440 C570 370 650 330 740 330 C840 335 900 390 950 440 C975 458 1000 456 1090 456 C1130 455 1150 430 1148 385 L1215 455 L1095 597 C1060 540 1000 520 900 505 C800 492 680 486 610 478 C575 472 558 462 560 440 Z M445 630 C600 655 800 665 930 695 C990 710 1000 730 960 748 C900 770 850 775 805 787 C790 740 730 700 650 695 C600 695 565 720 550 748 Z M600 820 C680 850 800 855 890 830 L760 997 Z" fill="#252525"/></mask><rect x="0" y="0" width="1600" height="1300" fill="rgba(255,255,255,0.56)" mask="url(#shm2)"/></g>
</svg>
</div>
<div class="t" style="left:1872.50px;top:937.75px;font-size:29px;line-height:38px;color:#fff;letter-spacing:0.099px;">SuperVet</div>
<div class="a" style="left:1856px;top:1012px;width:268px;height:72px;background:#00796B;border-radius:7px;overflow:hidden;">
<svg class="a" style="left:0;top:8px;" width="260" height="56" viewBox="0 8 260 56">
<g transform="translate(220.00,48) rotate(-25) scale(0.15625) translate(-288.0,-256)"><path d="M253.300 35.100c6.100-11.800 1.500-26.300-10.200-32.400s-26.300-1.500-32.400 10.200L117.600 192H32c-17.700 0-32 14.300-32 32s14.300 32 32 32L83.900 463.500C91 492 116.600 512 146 512H430c29.400 0 55-20 62.100-48.500L544 256c17.700 0 32-14.300 32-32s-14.300-32-32-32H458.400L365.300 12.900C359.200 1.200 344.700-3.400 332.900 2.700s-16.300 20.600-10.200 32.400L404.300 192H171.700L253.300 35.100zM192 304v96c0 8.800-7.200 16-16 16s-16-7.200-16-16V304c0-8.800 7.200-16 16-16s16 7.200 16 16zm96-16c8.800 0 16 7.200 16 16v96c0 8.800-7.200 16-16 16s-16-7.200-16-16V304c0-8.800 7.200-16 16-16zm128 16v96c0 8.800-7.200 16-16 16s-16-7.200-16-16V304c0-8.800 7.200-16 16-16s16 7.200 16 16z" fill="rgba(255,255,255,0.55)"/></g>
</svg>
</div>
<div class="t" style="left:1872.50px;top:1025.75px;font-size:29px;line-height:38px;color:#fff;letter-spacing:0.037px;">Venda</div>
<div class="a" style="left:1856px;top:1100px;width:268px;height:72px;background:#607D8B;border-radius:7px;overflow:hidden;">
<svg class="a" style="left:0;top:8px;" width="260" height="56" viewBox="0 8 260 56">
<g transform="translate(220.00,48) rotate(-25) scale(0.15625) translate(-256.0,-256)"><path d="M288 32c0-17.700-14.300-32-32-32s-32 14.300-32 32V256c0 17.700 14.300 32 32 32s32-14.300 32-32V32zM143.500 120.600c13.600-11.300 15.400-31.500 4.100-45.100s-31.500-15.400-45.100-4.100C49.700 115.400 16 181.800 16 256c0 132.500 107.500 240 240 240s240-107.500 240-240c0-74.200-33.800-140.600-86.600-184.600c-13.600-11.300-33.800-9.500-45.100 4.100s-9.500 33.800 4.100 45.100c38.900 32.300 63.500 81 63.500 135.400c0 97.200-78.800 176-176 176s-176-78.800-176-176c0-54.400 24.700-103.100 63.500-135.400z" fill="rgba(255,255,255,0.55)"/></g>
</svg>
</div>
<div class="t" style="left:1872.50px;top:1113.75px;font-size:29px;line-height:38px;color:#fff;letter-spacing:-0.857px;">Sair</div>
<div class="a" style="left:0px;top:1208px;width:2156px;height:80px;background:#EAF5EB;"></div>
<div class="t" style="left:25.00px;top:1229.75px;font-size:29px;line-height:38px;color:#43A047;font-weight:bold;letter-spacing:0.281px;">Clínica Veterinária</div>
<div class="a" style="left:1952px;top:1226.4px;width:298px;height:72px;transform-origin:0 0;transform:scale(0.6);">
<div class="a" style="left:0;top:0;width:298px;height:72px;background:#18813B;border-radius:9px;"></div>
<div class="t" style="left:15.2px;top:0.25px;font-size:57px;line-height:72px;font-weight:bold;color:#E8F5E9;-webkit-text-stroke:0.7px #E8F5E9;text-shadow:0 3px 1.5px rgba(0,0,0,0.3);transform-origin:0 50%;transform:scaleX(0.9551);">VetBase</div>
<svg class="a" style="left:237px;top:11.3px;filter:drop-shadow(0 2.5px 1px rgba(0,0,0,0.3));" width="45.3" height="48.3" viewBox="0 0 512 512" preserveAspectRatio="none"><path d="M256 224c-79.410 0-192 122.760-192 200.250 0 34.900 26.810 55.750 71.740 55.750 48.840 0 81.090-25.080 120.260-25.080 39.510 0 71.850 25.080 120.260 25.080 44.930 0 71.740-20.850 71.740-55.750C448 346.760 335.410 224 256 224zm-147.280-12.610c-10.400-34.650-42.440-57.090-71.560-50.130-29.120 6.960-44.290 40.690-33.890 75.340 10.400 34.650 42.440 57.090 71.560 50.130 29.120-6.960 44.290-40.690 33.890-75.340zm84.720-20.780c30.940-8.140 46.420-49.940 34.580-93.360s-46.520-72.010-77.460-63.870-46.420 49.940-34.580 93.360c11.840 43.420 46.530 72.020 77.460 63.870zm281.390-29.340c-29.120-6.960-61.150 15.480-71.560 50.130-10.400 34.650 4.770 68.380 33.890 75.340 29.120 6.960 61.150-15.480 71.560-50.130 10.400-34.650-4.770-68.380-33.890-75.340zm-156.270 29.340c30.940 8.140 65.620-20.450 77.460-63.870 11.840-43.420-3.640-85.210-34.580-93.360s-65.620 20.450-77.460 63.870c-11.840 43.420 3.640 85.220 34.580 93.360z" fill="#E8F5E9"/></svg>
</div>
</body></html>
